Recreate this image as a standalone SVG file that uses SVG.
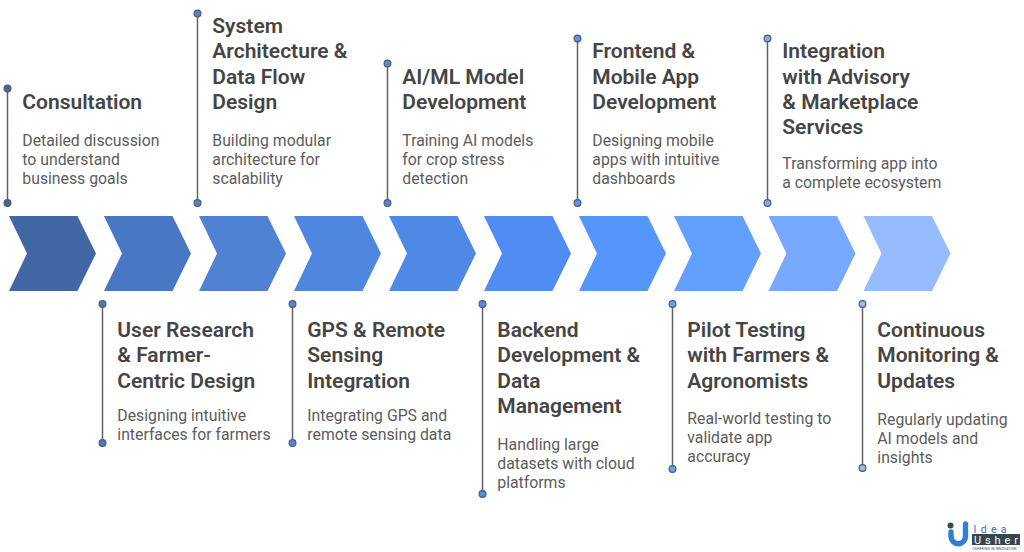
<svg xmlns="http://www.w3.org/2000/svg" width="1024" height="552" viewBox="0 0 1024 552">
<style>
text{font-family:Roboto,"Liberation Sans",sans-serif}
.t{font-size:21px;font-weight:600;fill:#454545}
.d{font-size:15.8px;fill:#5c5c5c;transform:translateY(.5px)}
.l{stroke:#5f6368;stroke-width:1.5;fill:none}
.o{stroke:#555b63;stroke-width:1.2}
</style>
<defs><path id="c" d="M0 0H68.500L87 37.500L68.500 75H0L18 37.500Z"/></defs>
<g id="chevrons">
<use href="#c" x="9" y="216" fill="#4267a5"/>
<use href="#c" x="104" y="216" fill="#4878c4"/>
<use href="#c" x="199" y="216" fill="#5082d3"/>
<use href="#c" x="294" y="216" fill="#4f86df"/>
<use href="#c" x="389" y="216" fill="#4f89e8"/>
<use href="#c" x="484" y="216" fill="#508df2"/>
<use href="#c" x="579" y="216" fill="#5596fb"/>
<use href="#c" x="674" y="216" fill="#62a0ff"/>
<use href="#c" x="768.500" y="216" fill="#76a9ff"/>
<use href="#c" x="863.500" y="216" fill="#96bcff"/>
</g>
<g id="connectors">
<path class="l" d="M7.500 88V203M197.500 13V203M387.500 63V203M577.500 38V203M767.500 38V203M102.500 304V443M292.500 304V443M482.500 304V494M672.500 304V469M862.500 304V468"/>
</g>
<g id="dots">
<circle class="o" cx="7.500" cy="88.500" r="3.400" fill="#4267a5"/><circle class="o" cx="7.500" cy="203" r="3.400" fill="#4267a5"/>
<circle class="o" cx="197.500" cy="13.500" r="3.400" fill="#5082d3"/><circle class="o" cx="197.500" cy="203" r="3.400" fill="#5082d3"/>
<circle class="o" cx="387.500" cy="63.500" r="3.400" fill="#4f89e8"/><circle class="o" cx="387.500" cy="203" r="3.400" fill="#4f89e8"/>
<circle class="o" cx="577.500" cy="38.500" r="3.400" fill="#5596fb"/><circle class="o" cx="577.500" cy="203" r="3.400" fill="#5596fb"/>
<circle class="o" cx="767.500" cy="38.500" r="3.400" fill="#76a9ff"/><circle class="o" cx="767.500" cy="203" r="3.400" fill="#76a9ff"/>
<circle class="o" cx="102.500" cy="304" r="3.400" fill="#4878c4"/><circle class="o" cx="102.500" cy="443" r="3.400" fill="#4878c4"/>
<circle class="o" cx="292.500" cy="304" r="3.400" fill="#4f86df"/><circle class="o" cx="292.500" cy="443" r="3.400" fill="#4f86df"/>
<circle class="o" cx="482.500" cy="304" r="3.400" fill="#508df2"/><circle class="o" cx="482.500" cy="494" r="3.400" fill="#508df2"/>
<circle class="o" cx="672.500" cy="304" r="3.400" fill="#62a0ff"/><circle class="o" cx="672.500" cy="469" r="3.400" fill="#62a0ff"/>
<circle class="o" cx="862.500" cy="304" r="3.400" fill="#96bcff"/><circle class="o" cx="862.500" cy="468" r="3.400" fill="#96bcff"/>
</g>
<g id="node-1"><text class="t" x="22.300" y="109">Consultation</text><text class="d" x="22.300" y="145">Detailed discussion</text><text class="d" x="22.300" y="164">to understand</text><text class="d" x="22.300" y="183">business goals</text></g>
<g id="node-2"><text class="t" x="117.300" y="337">User Research</text><text class="t" x="117.300" y="362">&amp; Farmer-</text><text class="t" x="117.300" y="387.500">Centric Design</text><text class="d" x="117.300" y="420">Designing intuitive</text><text class="d" x="117.300" y="439">interfaces for farmers</text></g>
<g id="node-3"><text class="t" x="212.300" y="33">System</text><text class="t" x="212.300" y="58">Architecture &amp;</text><text class="t" x="212.300" y="83.500">Data Flow</text><text class="t" x="212.300" y="109">Design</text><text class="d" x="212.300" y="145">Building modular</text><text class="d" x="212.300" y="164">architecture for</text><text class="d" x="212.300" y="183">scalability</text></g>
<g id="node-4"><text class="t" x="307.300" y="337">GPS &amp; Remote</text><text class="t" x="307.300" y="362">Sensing</text><text class="t" x="307.300" y="387.500">Integration</text><text class="d" x="307.300" y="420">Integrating GPS and</text><text class="d" x="307.300" y="439">remote sensing data</text></g>
<g id="node-5"><text class="t" x="402.300" y="83.500">AI/ML Model</text><text class="t" x="402.300" y="109">Development</text><text class="d" x="402.300" y="145">Training AI models</text><text class="d" x="402.300" y="164">for crop stress</text><text class="d" x="402.300" y="183">detection</text></g>
<g id="node-6"><text class="t" x="497.300" y="337">Backend</text><text class="t" x="497.300" y="362">Development &amp;</text><text class="t" x="497.300" y="387.500">Data</text><text class="t" x="497.300" y="413">Management</text><text class="d" x="497.300" y="449">Handling large</text><text class="d" x="497.300" y="468">datasets with cloud</text><text class="d" x="497.300" y="487">platforms</text></g>
<g id="node-7"><text class="t" x="592.300" y="58">Frontend &amp;</text><text class="t" x="592.300" y="83.500">Mobile App</text><text class="t" x="592.300" y="109">Development</text><text class="d" x="592.300" y="145">Designing mobile</text><text class="d" x="592.300" y="164">apps with intuitive</text><text class="d" x="592.300" y="183">dashboards</text></g>
<g id="node-8"><text class="t" x="687.300" y="337">Pilot Testing</text><text class="t" x="687.300" y="362">with Farmers &amp;</text><text class="t" x="687.300" y="387.500">Agronomists</text><text class="d" x="687.300" y="423">Real-world testing to</text><text class="d" x="687.300" y="442">validate app</text><text class="d" x="687.300" y="461">accuracy</text></g>
<g id="node-9"><text class="t" x="782.300" y="58">Integration</text><text class="t" x="782.300" y="83.500">with Advisory</text><text class="t" x="782.300" y="109">&amp; Marketplace</text><text class="t" x="782.300" y="134">Services</text><text class="d" x="782.300" y="168">Transforming app into</text><text class="d" x="782.300" y="187">a complete ecosystem</text></g>
<g id="node-10"><text class="t" x="877.300" y="337">Continuous</text><text class="t" x="877.300" y="362">Monitoring &amp;</text><text class="t" x="877.300" y="387.500">Updates</text><text class="d" x="877.300" y="424">Regularly updating</text><text class="d" x="877.300" y="443">AI models and</text><text class="d" x="877.300" y="462">insights</text></g>
<g id="logo">
<circle cx="950.500" cy="525.500" r="3" fill="#37474f"/>
<path d="M951 532V536.500A7 7 0 0 0 965.500 536.500V524" fill="none" stroke="#2f7fd6" stroke-width="5.400" stroke-linecap="round"/>
<text x="973.500" y="532.500" font-size="10.500" fill="#2f6fb0" textLength="33" lengthAdjust="spacing">Idea</text>
<rect x="972" y="534" width="48" height="11" fill="#37474f"/>
<text x="974" y="543.500" font-size="11" fill="#fff" textLength="44" lengthAdjust="spacing">Usher</text>
<text x="972.500" y="549.500" font-size="3.400" fill="#37474f" textLength="44">USHERING IN INNOVATION</text>
</g>
</svg>
